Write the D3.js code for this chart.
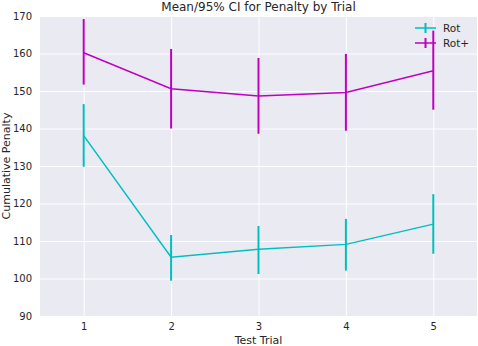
<!DOCTYPE html>
<html>
<head>
<meta charset="utf-8">
<script src="https://cdn.jsdelivr.net/npm/d3@7"></script>
<style>
  body { margin: 0; background: #fff; }
  text { font-family: "DejaVu Sans", sans-serif; fill: #262626; }
</style>
</head>
<body>
<div id="chart"></div>
<script>
// data
var trials = [1, 2, 3, 4, 5];
var rotMean = [138.1, 105.7, 107.8, 109.1, 114.5];
var rotLow  = [129.8, 99.4, 101.2, 102.1, 106.6];
var rotHigh = [146.5, 111.6, 114.0, 115.9, 122.5];
var rotPlusMean = [160.2, 150.6, 148.7, 149.6, 155.4];
var rotPlusLow  = [151.7, 140.0, 138.6, 139.4, 145.0];
var rotPlusHigh = [169.2, 161.2, 158.8, 159.9, 166.1];
var yTicks = [90, 100, 110, 120, 130, 140, 150, 160, 170];

var width = 478, height = 346;
var margin = {top: 16, right: 1, bottom: 30, left: 40};

var svg = d3.select("#chart").append("svg")
    .attr("width", width)
    .attr("height", height);

var x = d3.scaleLinear().domain([0.5, 5.5]).range([margin.left, width - margin.right]);
var y = d3.scaleLinear().domain([90, 170]).range([height - margin.bottom, margin.top]);

// background
svg.append("rect")
    .attr("x", x(0.5)).attr("y", y(170))
    .attr("width", x(5.5) - x(0.5)).attr("height", y(90) - y(170))
    .attr("fill", "#EAEAF2");

// grid
var xAxis = svg.append("g")
    .attr("transform", `translate(0,${y(90)})`)
    .call(d3.axisBottom(x).tickValues(trials).tickFormat(d3.format("d"))
        .tickSize(-(y(90) - y(170))).tickPadding(7));
var yAxis = svg.append("g")
    .attr("transform", `translate(${x(0.5)},0)`)
    .call(d3.axisLeft(y).tickValues(yTicks)
        .tickSize(-(x(5.5) - x(0.5))).tickPadding(8));

[xAxis, yAxis].forEach(function(a) {
  a.select(".domain").remove();
  a.selectAll(".tick line").attr("stroke", "#fff").attr("stroke-width", 1);
  a.selectAll(".tick text").attr("font-size", 10).attr("fill", "#262626")
      .style("font-family", "DejaVu Sans, sans-serif");
});

var series = [
  {name: "Rot", color: "#00BFBF", mean: rotMean, low: rotLow, high: rotHigh},
  {name: "Rot+", color: "#BF00BF", mean: rotPlusMean, low: rotPlusLow, high: rotPlusHigh}
];

var line = d3.line().x(d => x(d.t)).y(d => y(d.m));

series.forEach(function(s) {
  var pts = trials.map((t, i) => ({t: t, m: s.mean[i], lo: s.low[i], hi: s.high[i]}));
  svg.append("path")
      .datum(pts)
      .attr("d", line)
      .attr("fill", "none")
      .attr("stroke", s.color)
      .attr("stroke-width", 1.5);
  svg.selectAll(null)
      .data(pts)
      .enter()
      .append("line")
      .attr("x1", d => x(d.t)).attr("x2", d => x(d.t))
      .attr("y1", d => y(d.lo)).attr("y2", d => y(d.hi))
      .attr("stroke", s.color)
      .attr("stroke-width", 2);
});

// legend
var legend = svg.append("g").attr("transform", "translate(415,28)");
series.forEach(function(s, i) {
  var g = legend.append("g").attr("transform", `translate(0,${i * 15})`);
  g.append("line").attr("x1", 0).attr("x2", 21).attr("y1", 0).attr("y2", 0)
      .attr("stroke", s.color).attr("stroke-width", 1.5);
  g.append("line").attr("x1", 10.5).attr("x2", 10.5).attr("y1", -5).attr("y2", 5)
      .attr("stroke", s.color).attr("stroke-width", 2);
  g.append("text").attr("x", 28).attr("y", 4)
      .attr("font-size", 10.5).text(s.name);
});

// title and labels
svg.append("text")
    .attr("x", (x(0.5) + x(5.5)) / 2).attr("y", 11)
    .attr("text-anchor", "middle").attr("font-size", 12)
    .text("Mean/95% CI for Penalty by Trial");
svg.append("text")
    .attr("x", (x(0.5) + x(5.5)) / 2).attr("y", 344)
    .attr("text-anchor", "middle").attr("font-size", 11)
    .text("Test Trial");
svg.append("text")
    .attr("transform", `translate(9.5,${(y(90) + y(170)) / 2}) rotate(-90)`)
    .attr("text-anchor", "middle").attr("font-size", 11)
    .text("Cumulative Penalty");
</script>
</body>
</html>
